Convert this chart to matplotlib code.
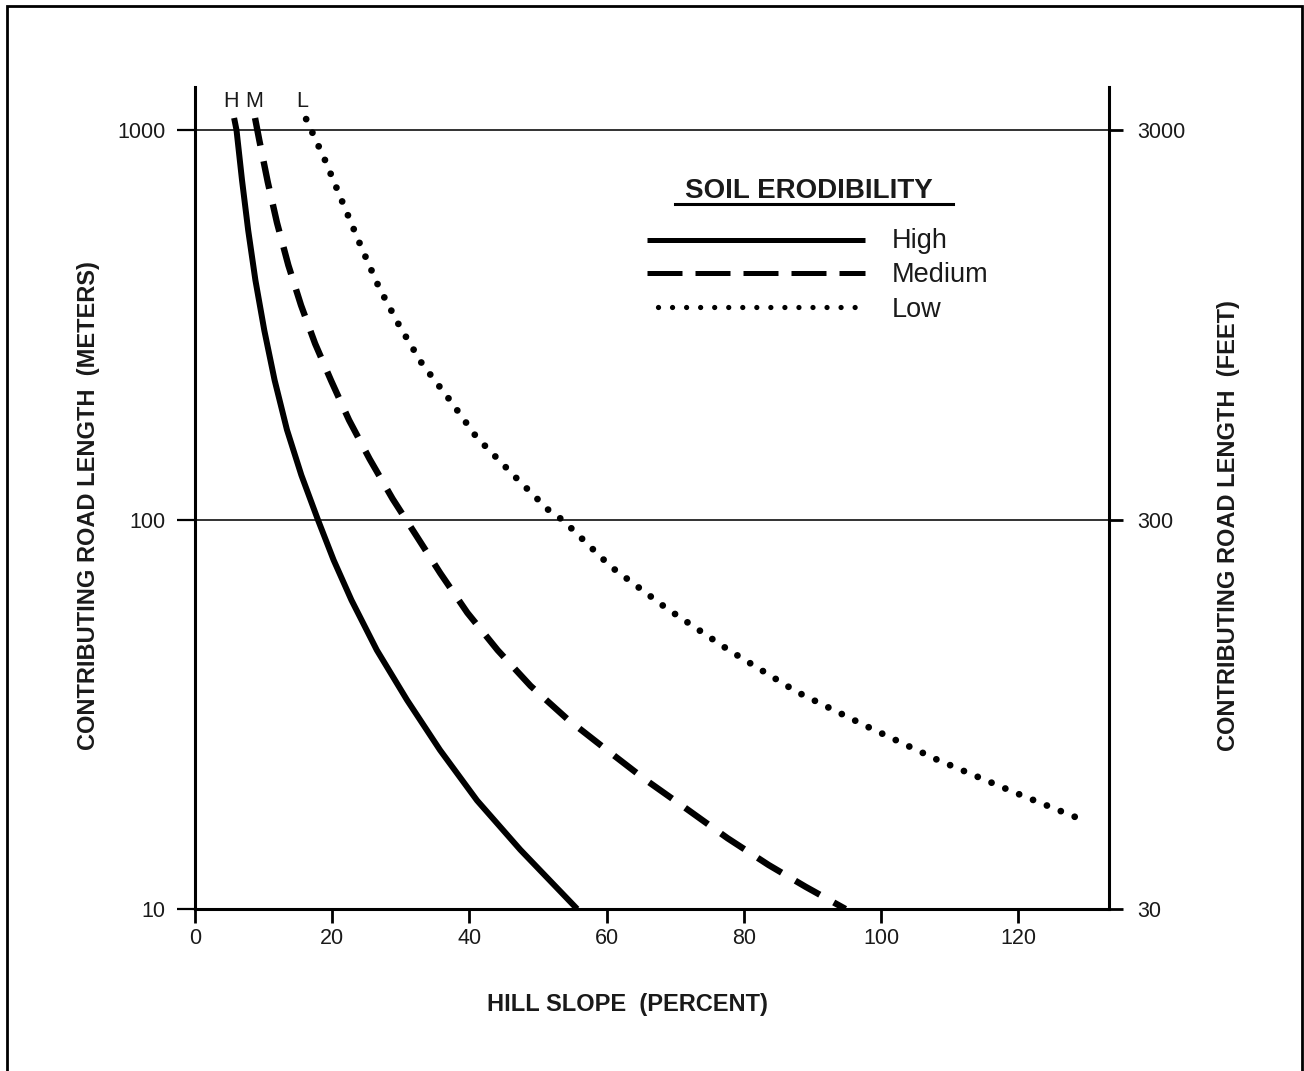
import matplotlib
matplotlib.use('Agg')
import matplotlib.pyplot as plt
from matplotlib.lines import Line2D
from matplotlib.patches import Rectangle
from matplotlib.ticker import FixedLocator, NullLocator, FixedFormatter

plt.rcParams['font.family'] = ['Liberation Sans', 'DejaVu Sans']

# ---- data ----
slope_high = [5.7, 6.05, 6.85, 7.75, 8.8, 10.1, 11.6, 13.4, 15.5, 17.9, 20.2, 22.8,
              26.5, 30.9, 35.7, 41.1, 47.4, 55.7]
length_high = [1074, 1000, 744, 553, 412, 306, 228, 170, 130, 100, 78.7, 62.1,
               46.2, 34.4, 25.6, 19.0, 14.2, 10]

slope_med = [8.75, 9.37, 10.6, 11.95, 13.6, 15.45, 17.5, 19.85, 22.45, 25.45, 28.8, 32.2,
             35.75, 39.7, 44.1, 48.9, 54.3, 59.9, 65.6, 71.6, 77.6, 83.6, 89.0, 94.8]
length_med = [1074, 942, 736, 578, 450, 355, 283, 227, 180, 143, 113, 91.2,
              72.8, 57.6, 46.2, 37.4, 30.7, 25.7, 21.5, 18.1, 15.2, 12.97, 11.4, 10]

slope_low = [16.2, 18.9, 21.6, 24.2, 26.8, 29.8, 33.1, 37.2, 41.0, 46.6, 51.7, 53.6,
             60.6, 68.7, 77.8, 87.7, 97.8, 108.1, 119.5, 130.0]
length_low = [1067, 841, 646, 502, 395, 314, 251, 202, 163, 129, 105, 99.7,
              75.7, 59.2, 46.2, 36.1, 29.5, 24.2, 19.9, 16.75]

x_ticks = [0, 20, 40, 60, 80, 100, 120]
y_ticks_m = [10, 100, 1000]
y_ticks_ft = [30, 300, 3000]
legend_title = 'SOIL ERODIBILITY'
legend_labels = ['High', 'Medium', 'Low']
curve_tags = ['H', 'M', 'L']
tag_x = [5.25, 8.6, 15.7]
tag_y = 1146

W, H = 1304, 1071
fig = plt.figure(figsize=(W / 100, H / 100), dpi=100)
fig.patch.set_facecolor('white')

def fx(px):
    return px / W

def fy(py):
    return 1 - py / H

ax = fig.add_axes([fx(195), fy(909), (1109 - 195) / W, (909 - 87) / H])
ax.set_yscale('log')
ax.set_xlim(0, 133.2)
ax.set_ylim(10, 1290)

# curves
ax.plot(slope_high, length_high, color='black', lw=4.3, solid_capstyle='butt',
        solid_joinstyle='round', zorder=3)
ax.plot(slope_med, length_med, color='black', lw=4.6, linestyle=(0, (4.4, 2.5)),
        dash_capstyle='butt', zorder=3)
ax.plot(slope_low, length_low, color='black', lw=4.9, linestyle=(0, (0.001, 2.2)),
        dash_capstyle='round', zorder=3)

for t, xt in zip(curve_tags, tag_x):
    ax.text(xt, tag_y, t, ha='center', va='baseline', fontsize=15.5, color='#1a1a1a')

# axes styling
for s in ['top', 'right']:
    ax.spines[s].set_visible(False)
for s in ['left', 'bottom']:
    ax.spines[s].set_linewidth(2.2)

ax.xaxis.set_major_locator(FixedLocator(x_ticks))
ax.yaxis.set_major_locator(FixedLocator(y_ticks_m))
ax.yaxis.set_major_formatter(FixedFormatter([str(v) for v in y_ticks_m]))
ax.yaxis.set_minor_locator(NullLocator())
ax.tick_params(axis='y', which='major', direction='out', length=13, width=1.6,
               labelsize=15.5, pad=8.5, labelcolor='#1a1a1a')
ax.tick_params(axis='x', which='major', direction='out', length=10, width=2,
               labelsize=15.5, pad=4, labelcolor='#1a1a1a')
ax.grid(True, axis='y', which='major', color='#222222', lw=1.3)
ax.grid(False, axis='x')

ax.set_xlabel('HILL SLOPE  (PERCENT)', fontsize=17, fontweight='bold', color='#1a1a1a')
ax.xaxis.set_label_coords((627 - 195) / 914, -(1004 - 909) / 822)
ax.xaxis.label.set_va('center')

ax.set_ylabel('CONTRIBUTING ROAD LENGTH  (METERS)', fontsize=17, fontweight='bold',
              color='#1a1a1a')
ax.yaxis.set_label_coords((89 - 195) / 914, 1 - (506 - 87) / 822)
ax.yaxis.label.set_va('center')

# right axis in feet
ax2 = ax.twinx()
ax2.set_yscale('log')
ax2.set_ylim(30, 3870)
ax2.yaxis.set_major_locator(FixedLocator(y_ticks_ft))
ax2.yaxis.set_major_formatter(FixedFormatter([str(v) for v in y_ticks_ft]))
ax2.yaxis.set_minor_locator(NullLocator())
for s in ['top', 'left', 'bottom']:
    ax2.spines[s].set_visible(False)
ax2.spines['right'].set_linewidth(2.2)
ax2.tick_params(axis='y', which='major', direction='out', length=10, width=2,
                labelsize=15.5, pad=10, labelcolor='#1a1a1a')
ax2.set_ylabel('CONTRIBUTING ROAD LENGTH  (FEET)', fontsize=17, fontweight='bold',
               color='#1a1a1a')
ax2.yaxis.set_label_coords((1229 - 195) / 914, 1 - (526 - 87) / 822)
ax2.yaxis.label.set_va('center')

# legend (drawn manually)
fig.text(fx(809), fy(198.3), legend_title, fontsize=20, fontweight='bold',
         ha='center', va='baseline', color='#1a1a1a')
fig.add_artist(Line2D([fx(675), fx(953)], [fy(204), fy(204)], color='black', lw=2.2,
                      transform=fig.transFigure))
leg_styles = [
    dict(linestyle='-', lw=3.6, solid_capstyle='butt'),
    dict(linestyle=(0, (7.0, 2.6)), lw=3.6, dash_capstyle='butt'),
    dict(linestyle=(0, (0.001, 2.66)), lw=3.8, dash_capstyle='round'),
]
leg_rows = [240, 273.3, 306.7]
leg_x0 = [647, 647, 658]
leg_x1 = [865, 865, 859]
leg_base = [248, 282, 316.7]
for lab, st, ry, x0, x1, bl in zip(legend_labels, leg_styles, leg_rows, leg_x0, leg_x1, leg_base):
    fig.add_artist(Line2D([fx(x0), fx(x1)], [fy(ry), fy(ry)], color='black',
                          transform=fig.transFigure, **st))
    fig.text(fx(891.7), fy(bl), lab, fontsize=19.5, ha='left', va='baseline',
             color='#1a1a1a')

# outer frame
fig.add_artist(Rectangle((fx(6.5), -0.01), fx(1301.5) - fx(6.5), fy(5.5) + 0.01,
                         fill=False, lw=2.0, edgecolor='black',
                         transform=fig.transFigure))

fig.savefig('out.png', dpi=100, facecolor='white')
